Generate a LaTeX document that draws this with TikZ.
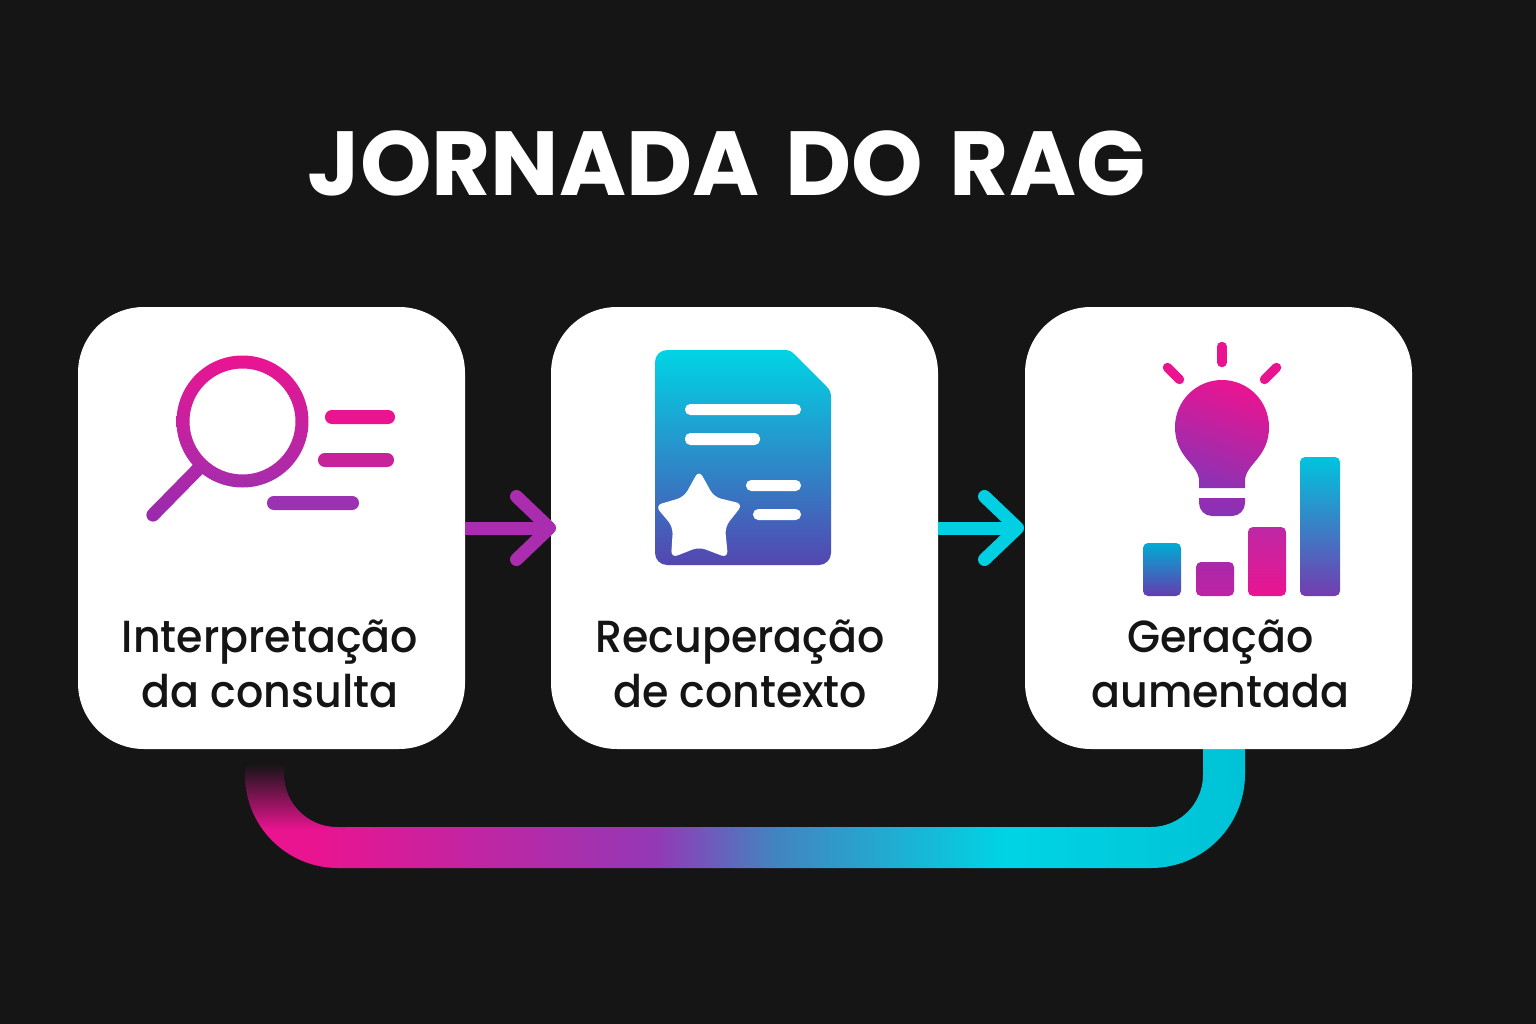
\documentclass[tikz,border=0pt]{standalone}
\usepackage{fontspec}
\setmainfont{Poppins}[UprightFont=*-Medium,BoldFont=*-Bold]
\newfontfamily\lblfont{Poppins}[UprightFont=*-Medium,FakeStretch=0.95]
\usetikzlibrary{arrows.meta,fadings,calc}
\definecolor{bg}{RGB}{21,21,22}
\definecolor{mag}{RGB}{234,20,145}
\definecolor{pur}{RGB}{160,48,175}
\definecolor{cya}{RGB}{0,212,228}
\definecolor{arrowpur}{RGB}{170,45,175}
\definecolor{arrowcya}{RGB}{0,208,226}
\definecolor{lpA}{RGB}{148,56,182}
\definecolor{lpB}{RGB}{66,132,192}
\definecolor{lpC}{RGB}{0,194,214}
\definecolor{ringB}{RGB}{165,45,172}
\definecolor{hanA}{RGB}{178,40,170}
\definecolor{hanB}{RGB}{152,42,172}
\definecolor{lnB}{RGB}{200,34,155}
\definecolor{lnC}{RGB}{155,50,178}
\definecolor{docB}{RGB}{84,70,176}
\definecolor{blbB}{RGB}{140,50,180}
\definecolor{basA}{RGB}{150,45,180}
\definecolor{basB}{RGB}{135,50,180}
\definecolor{brAa}{RGB}{0,172,212}
\definecolor{brAb}{RGB}{100,60,176}
\definecolor{brBa}{RGB}{170,40,170}
\definecolor{brBb}{RGB}{190,35,165}
\definecolor{brCa}{RGB}{190,40,165}
\definecolor{brDa}{RGB}{0,196,222}
\definecolor{brDb}{RGB}{115,60,176}
\pgfdeclarehorizontalshading{loopshade}{100bp}{
 color(0bp)=(mag);
 color(25bp)=(mag);
 color(28.5bp)=(mag);
 color(45.5bp)=(lpA);
 color(51.5bp)=(lpB);
 color(63bp)=(cya);
 color(75bp)=(lpC);
 color(100bp)=(lpC)}
\tikzfading[name=fadedown, top color=transparent!0, middle color=transparent!25, bottom color=transparent!100]
\tikzset{
 card/.style={fill=white,rounded corners=66pt,minimum width=387pt,minimum height=442pt,inner sep=0pt,outer sep=0pt},
 cardlabel/.style={text=black!92,font=\lblfont\fontsize{45}{55.5}\selectfont,align=center,inner sep=0pt},
 title/.style={text=white,font=\fontsize{91}{100}\selectfont\bfseries,inner sep=0pt},
 flow/.style={-{Straight Barb[length=33pt,width=63pt,round,line width=13pt]}},
 pill/.style={rounded corners=#1},
 ray/.style={line width=9.5pt,line cap=round,draw=mag}
}
\begin{document}
\begin{tikzpicture}[x=1pt,y=-1pt]
\useasboundingbox (0,0) rectangle (1536,1024);
\fill[bg] (0,0) rectangle (1536,1024);
\node[title] (ttl) at (726.5,163) {JORNADA\hspace{7pt} DO\hspace{7pt} RAG};
% loop (drawn first, under the cards)
\shade[shading=loopshade]
 (245,745) -- (245,775) arc[start angle=180,end angle=90,radius=93] -- (1151,868)
 arc[start angle=90,end angle=0,radius=94] -- (1245,745) -- (1203,745) -- (1203,775)
 arc[start angle=0,end angle=90,radius=52] -- (337,827)
 arc[start angle=90,end angle=180,radius=53] -- (284,745) -- cycle;
\fill[bg,path fading=fadedown] (240,764) rectangle (345,830);
\fill[bg] (240,740) rectangle (292,764);
% cards
\node[card] (c1) at (271.5,528) {};
\node[card] (c2) at (744.5,528) {};
\node[card] (c3) at (1218.5,528) {};
% arrows
\draw[flow,draw=arrowpur,line width=13pt,shorten >=-5pt] (c1.east) -- (c2.west);
\draw[flow,draw=arrowcya,line width=13pt,shorten >=1pt] (c2.east) -- (c3.west);
% magnifier
\shade[top color=mag,bottom color=ringB,even odd rule] (242.5,421.5) circle (66) (242.5,421.5) circle (53);
\shade[top color=hanA,bottom color=hanB,rounded corners=6.7pt] (207.7,468.7) -- (153,524.4) -- (143.6,515) -- (198.3,459.3) -- cycle;
\fill[mag,pill=6.8pt] (325,410) rectangle (395,424);
\fill[lnB,pill=6.8pt] (318,453) rectangle (394,467);
\fill[lnC,pill=6.8pt] (267,496) rectangle (359,510);
% document
\shade[top color=cya,bottom color=docB]
 (667,350) -- (784,350) .. controls (789,350) and (791,351) .. (794,354) -- (827,387)
 .. controls (830,390) and (831,393) .. (831,398) -- (831,553)
 arc[start angle=0,end angle=90,radius=12] -- (667,565)
 arc[start angle=90,end angle=180,radius=12] -- (655,362)
 arc[start angle=180,end angle=270,radius=12] -- cycle;
\fill[white,pill=5.3pt] (685,404) rectangle (801,415);
\fill[white,pill=5.3pt] (685,433) rectangle (760,445);
\fill[white,pill=5.3pt] (746,480) rectangle (801,491);
\fill[white,pill=5.3pt] (753,509) rectangle (801,520);
\fill[white,rounded corners=7pt] (699,470) -- (714,497) -- (743,504) -- (725,527) -- (728,558) -- (699,547) -- (671,558) -- (673,527) -- (655,505.5) -- (684,497) -- cycle;
% bulb
\draw[ray] (1222,346.5) -- (1222,362.5);
\draw[ray] (1167.5,367.5) -- (1179.5,379.5);
\draw[ray] (1276.5,367.5) -- (1264.5,379.5);
\shade[top color=mag,bottom color=blbB,shading angle=-20]
 (1199,488) -- (1199,481) .. controls (1199,464) and (1175,458) .. (1175,427)
 arc[start angle=180,end angle=360,radius=47]
 .. controls (1269,458) and (1245,464) .. (1245,481) -- (1245,488) -- cycle;
\shade[top color=basA,bottom color=basB]
 (1199,498) -- (1245,498) -- (1245,503) arc[start angle=0,end angle=90,radius=13] -- (1212,516) arc[start angle=90,end angle=180,radius=13] -- cycle;
% bars
\shade[top color=brAa,bottom color=brAb,rounded corners=5pt] (1143,543) rectangle (1181,596);
\shade[top color=brBa,bottom color=brBb,rounded corners=5pt] (1196,562) rectangle (1234,596);
\shade[top color=brCa,bottom color=mag,rounded corners=5pt] (1248,527) rectangle (1286,596);
\shade[top color=brDa,bottom color=brDb,rounded corners=5pt] (1300,457) rectangle (1340,596);
% labels
\node[cardlabel] (l1) at (270,664) {Interpretação\\da consulta};
\node[cardlabel] (l2) at (740,664) {Recuperação\\de contexto};
\node[cardlabel] (l3) at (1220.5,664) {Geração\\aumentada};
\end{tikzpicture}
\end{document}
